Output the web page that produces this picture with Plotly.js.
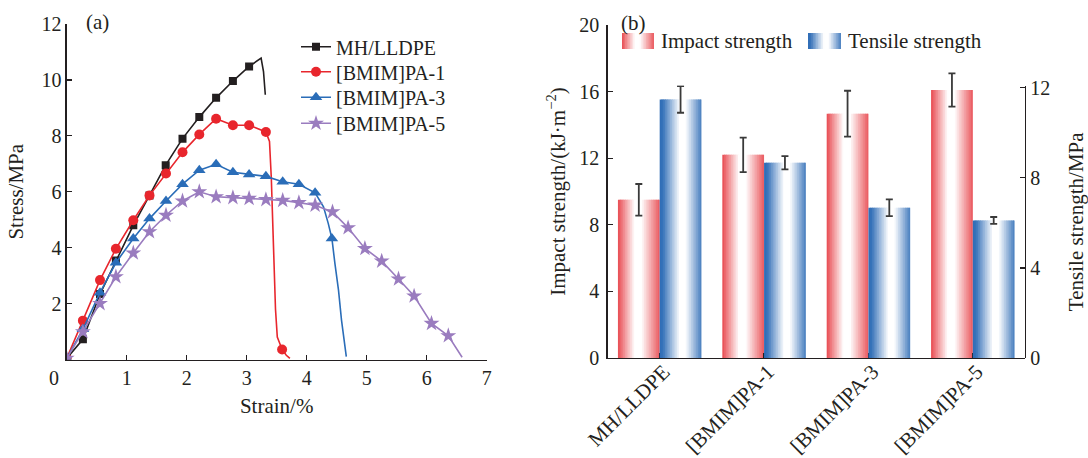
<!DOCTYPE html>
<html><head><meta charset="utf-8">
<script src="https://cdn.plot.ly/plotly-3.0.1.min.js"></script>
<style>html,body{margin:0;padding:0;background:#fff}#chart{width:1088px;height:458px}</style>
</head><body><div id="chart"></div>
<script>
// ---------- (a) stress–strain curves ----------
const seriesNames = ['MH/LLDPE', '[BMIM]PA-1', '[BMIM]PA-3', '[BMIM]PA-5'];
const seriesColors = ['#231f20', '#e8262d', '#2a6db8', '#9a7cbf'];
const seriesSymbols = ['square', 'circle', 'triangle-up', 'star'];

const curveStrainMH  = [0, 0.27, 0.555, 0.82, 1.11, 1.38, 1.65, 1.93, 2.21, 2.49, 2.77, 3.04, 3.24, 3.28, 3.31];
const curveStressMH  = [0.04, 0.72, 2.34, 3.54, 4.80, 5.87, 6.95, 7.90, 8.67, 9.36, 9.96, 10.48, 10.78, 10.3, 9.47];
const markStrainMH   = [0, 0.27, 0.555, 0.82, 1.11, 1.38, 1.65, 1.93, 2.21, 2.49, 2.77, 3.04];
const markStressMH   = [0.04, 0.72, 2.34, 3.54, 4.80, 5.87, 6.95, 7.90, 8.67, 9.36, 9.96, 10.48];

const curveStrainPA1 = [0, 0.27, 0.555, 0.82, 1.11, 1.38, 1.655, 1.93, 2.21, 2.49, 2.77, 3.04, 3.32, 3.38, 3.41, 3.45, 3.48, 3.51, 3.59, 3.66, 3.72];
const curveStressPA1 = [0.04, 1.39, 2.84, 3.96, 4.98, 5.87, 6.65, 7.41, 8.05, 8.61, 8.38, 8.38, 8.14, 7.8, 6.5, 4.0, 1.8, 0.8, 0.36, 0.15, 0.04];
const markStrainPA1  = [0, 0.27, 0.555, 0.82, 1.11, 1.38, 1.655, 1.93, 2.21, 2.49, 2.77, 3.04, 3.32, 3.59];
const markStressPA1  = [0.04, 1.39, 2.84, 3.96, 4.98, 5.87, 6.65, 7.41, 8.05, 8.61, 8.38, 8.38, 8.14, 0.36];

const curveStrainPA3 = [0, 0.27, 0.555, 0.82, 1.11, 1.38, 1.655, 1.93, 2.21, 2.49, 2.77, 3.04, 3.32, 3.6, 3.87, 4.14, 4.28, 4.36, 4.42, 4.47, 4.53, 4.58, 4.66];
const curveStressPA3 = [0.04, 1.08, 2.39, 3.46, 4.33, 5.04, 5.67, 6.27, 6.77, 6.98, 6.70, 6.62, 6.55, 6.36, 6.27, 5.96, 5.46, 4.86, 4.33, 3.44, 2.48, 1.41, 0.1];
const markStrainPA3  = [0, 0.27, 0.555, 0.82, 1.11, 1.38, 1.655, 1.93, 2.21, 2.49, 2.77, 3.04, 3.32, 3.6, 3.87, 4.14, 4.42];
const markStressPA3  = [0.04, 1.08, 2.39, 3.46, 4.33, 5.04, 5.67, 6.27, 6.77, 6.98, 6.70, 6.62, 6.55, 6.36, 6.27, 5.96, 4.33];

const curveStrainPA5 = [0, 0.27, 0.555, 0.82, 1.11, 1.38, 1.655, 1.93, 2.21, 2.49, 2.77, 3.04, 3.32, 3.6, 3.87, 4.14, 4.43, 4.69, 4.97, 5.25, 5.53, 5.79, 6.08, 6.36, 6.59];
const curveStressPA5 = [0.04, 0.99, 2.0, 2.96, 3.81, 4.57, 5.16, 5.67, 6.0, 5.82, 5.79, 5.76, 5.72, 5.69, 5.61, 5.52, 5.28, 4.71, 3.97, 3.52, 2.88, 2.27, 1.29, 0.85, 0.08];
const markStrainPA5  = [0, 0.27, 0.555, 0.82, 1.11, 1.38, 1.655, 1.93, 2.21, 2.49, 2.77, 3.04, 3.32, 3.6, 3.87, 4.14, 4.43, 4.69, 4.97, 5.25, 5.53, 5.79, 6.08, 6.36];
const markStressPA5  = [0.04, 0.99, 2.0, 2.96, 3.81, 4.57, 5.16, 5.67, 6.0, 5.82, 5.79, 5.76, 5.72, 5.69, 5.61, 5.52, 5.28, 4.71, 3.97, 3.52, 2.88, 2.27, 1.29, 0.85];

const strainTicks = [1, 2, 3, 4, 5, 6, 7];
const stressTicks = [2, 4, 6, 8, 10, 12];

// ---------- (b) impact / tensile strength ----------
const samples = ['MH/LLDPE', '[BMIM]PA-1', '[BMIM]PA-3', '[BMIM]PA-5'];
const impactStrength = [9.5, 12.2, 14.67, 16.1];
const impactError = [0.95, 1.04, 1.38, 1.0];
const tensileStrength = [11.48, 8.67, 6.67, 6.11];
const tensileError = [0.59, 0.29, 0.37, 0.15];
const impactTicks = [0, 4, 8, 12, 16, 20];
const tensileTicks = [0, 4, 8, 12];

// ---------- helpers ----------
const W = 1088, H = 458;
const px = x => x / W;
const py = y => 1 - y / H;
const FONT = '"Liberation Serif", "Times New Roman", serif';
const INK = '#231f20';

function profile(stops, t) {
  for (let i = 0; i < stops.length - 1; i++) {
    const [t0, w0] = stops[i], [t1, w1] = stops[i + 1];
    if (t >= t0 && t <= t1) return w0 + (w1 - w0) * (t - t0) / (t1 - t0);
  }
  return stops[stops.length - 1][1];
}
function mix(base, w) {
  const c = base.map(v => Math.round(v + (255 - v) * w));
  return `rgb(${c[0]},${c[1]},${c[2]})`;
}
const RED = [232, 74, 80], BLUE = [46, 108, 182];
const impactProfile = [[0, 0], [0.40, 1], [0.56, 1], [1, 0.08]];
const tensileProfile = [[0, 0], [0.08, 0.05], [0.48, 1], [0.62, 1], [1, 0.12]];

const traces = [];
const curves = [
  [curveStrainMH, curveStressMH, markStrainMH, markStressMH],
  [curveStrainPA1, curveStressPA1, markStrainPA1, markStressPA1],
  [curveStrainPA3, curveStressPA3, markStrainPA3, markStressPA3],
  [curveStrainPA5, curveStressPA5, markStrainPA5, markStressPA5]
];
const markerSizes = [8, 10, 11, 12];
curves.forEach((c, i) => {
  traces.push({type: 'scatter', mode: 'lines', x: c[0], y: c[1], xaxis: 'x', yaxis: 'y',
    line: {color: seriesColors[i], width: 1.6}, showlegend: false, hoverinfo: 'skip'});
  traces.push({type: 'scatter', mode: 'markers', x: c[2], y: c[3], xaxis: 'x', yaxis: 'y',
    marker: {color: seriesColors[i], symbol: seriesSymbols[i], size: markerSizes[i]}, showlegend: false});
});
// legend entries (no data), one legend box per row for exact row spacing
const legendNames = ['legend', 'legend2', 'legend3', 'legend4'];
seriesNames.forEach((n, i) => {
  traces.push({type: 'scatter', mode: 'lines+markers', name: n, x: [null], y: [null], xaxis: 'x', yaxis: 'y',
    legend: legendNames[i], showlegend: true,
    line: {color: seriesColors[i], width: 1.6},
    marker: {color: seriesColors[i], symbol: seriesSymbols[i], size: markerSizes[i]}});
});

// gradient bars built from thin slices
const N = 24, BW = 0.4, sw = BW / N;
const idx = samples.map((_, i) => i);
function addSlices(values, start, base, prof, xa, ya) {
  for (let k = 0; k < N; k++) {
    const t = (k + 0.5) / N;
    traces.push({type: 'bar', x: idx, y: values, xaxis: xa, yaxis: ya,
      offset: start + k * sw, width: k < N - 1 ? sw * 1.7 : sw,
      marker: {color: mix(base, profile(prof, t)), line: {width: 0}},
      showlegend: false, hoverinfo: 'skip'});
  }
}
addSlices(impactStrength, -BW, RED, impactProfile, 'x2', 'y2');
addSlices(tensileStrength, 0, BLUE, tensileProfile, 'x3', 'y3');

traces.push({type: 'scatter', mode: 'markers', x: idx.map(i => i - BW / 2), y: impactStrength,
  xaxis: 'x2', yaxis: 'y2', marker: {size: 1, opacity: 0}, showlegend: false,
  error_y: {type: 'data', array: impactError, color: '#3a3a3a', thickness: 1.8, width: 3.5}});
traces.push({type: 'scatter', mode: 'markers', x: idx.map(i => i + BW / 2), y: tensileStrength,
  xaxis: 'x3', yaxis: 'y3', marker: {size: 1, opacity: 0}, showlegend: false,
  error_y: {type: 'data', array: tensileError, color: '#3a3a3a', thickness: 1.8, width: 3.5}});

// legend swatches for (b)
const shapes = [];
function swatch(x0, x1, y0, y1, base, prof) {
  const M = 20, step = (x1 - x0) / M;
  for (let k = 0; k < M; k++) {
    const t = (k + 0.5) / M;
    const right = Math.min(x1, x0 + (k + 1.4) * step);
    shapes.push({type: 'rect', xref: 'paper', yref: 'paper',
      x0: px(x0 + k * step), x1: px(right),
      y0: py(y1), y1: py(y0), line: {width: 0}, fillcolor: mix(base, profile(prof, t)), layer: 'above'});
  }
}
swatch(622, 654, 33, 49, RED, impactProfile);
swatch(808, 841, 33, 49, BLUE, tensileProfile);

const tickFont = {family: FONT, size: 20, color: INK};
const titleFont = {family: FONT, size: 21, color: INK};
const axisBase = {showline: true, linecolor: INK, linewidth: 1.3, ticks: 'inside', ticklen: 5, tickwidth: 1.3,
  tickcolor: INK, showgrid: false, zeroline: false, tickfont: tickFont, automargin: false, fixedrange: true};

function note(text, x, y, xanchor) {
  return {text: text, xref: 'paper', yref: 'paper', x: px(x), y: py(y), xanchor: xanchor || 'center',
    yanchor: 'middle', showarrow: false, font: titleFont};
}
function legendBox(rowY) {
  return {x: px(296), y: py(rowY), xanchor: 'left', yanchor: 'middle', bgcolor: 'rgba(0,0,0,0)',
    font: {family: FONT, size: 20, color: INK}, itemwidth: 30};
}

const layout = {
  width: W, height: H, margin: {l: 0, r: 0, t: 0, b: 0},
  paper_bgcolor: '#fff', plot_bgcolor: 'rgba(0,0,0,0)',
  barmode: 'overlay', showlegend: true,
  font: {family: FONT, color: INK},
  legend: legendBox(46.7),
  legend2: legendBox(71.7),
  legend3: legendBox(97.3),
  legend4: legendBox(123.3),
  xaxis: Object.assign({}, axisBase, {domain: [px(66.7), px(486.7)], range: [0, 7], anchor: 'y',
    tickvals: strainTicks, title: {text: 'Strain/%', font: titleFont, standoff: 10}}),
  yaxis: Object.assign({}, axisBase, {domain: [py(359.5), py(24)], range: [0, 12], anchor: 'x',
    tickvals: stressTicks, title: {text: 'Stress/MPa', font: titleFont, standoff: 12}}),
  xaxis2: Object.assign({}, axisBase, {domain: [px(607.5), px(1025)], range: [-0.5, 3.5], anchor: 'y2',
    tickvals: idx, ticktext: samples, tickangle: -45, ticklabelstandoff: -8, ticklabelshift: 4,
    tickfont: {family: FONT, size: 21, color: INK}}),
  yaxis2: Object.assign({}, axisBase, {domain: [py(358), py(25)], range: [0, 20], anchor: 'x2',
    tickvals: impactTicks, ticklabelstandoff: 3,
    title: {text: 'Impact strength/(kJ·m<sup>−2</sup>)', font: titleFont, standoff: 8}}),
  xaxis3: {domain: [px(607.5), px(1025)], range: [-0.5, 3.5], anchor: 'y3', visible: false, fixedrange: true},
  yaxis3: Object.assign({}, axisBase, {domain: [py(358), py(85.5)], range: [0, 12.1], anchor: 'x3', side: 'right',
    tickvals: tensileTicks, title: {text: 'Tensile strength/MPa', font: titleFont, standoff: 19}}),
  shapes: shapes,
  annotations: [
    note('(a)', 97, 21.5),
    note('(b)', 633, 23),
    Object.assign(note('0', 53.5, 378), {font: tickFont}),
    note('Impact strength', 659, 41, 'left'),
    note('Tensile strength', 846, 41, 'left')
  ]
};

Plotly.newPlot('chart', traces, layout, {displayModeBar: false, staticPlot: true});
</script>
</body></html>
